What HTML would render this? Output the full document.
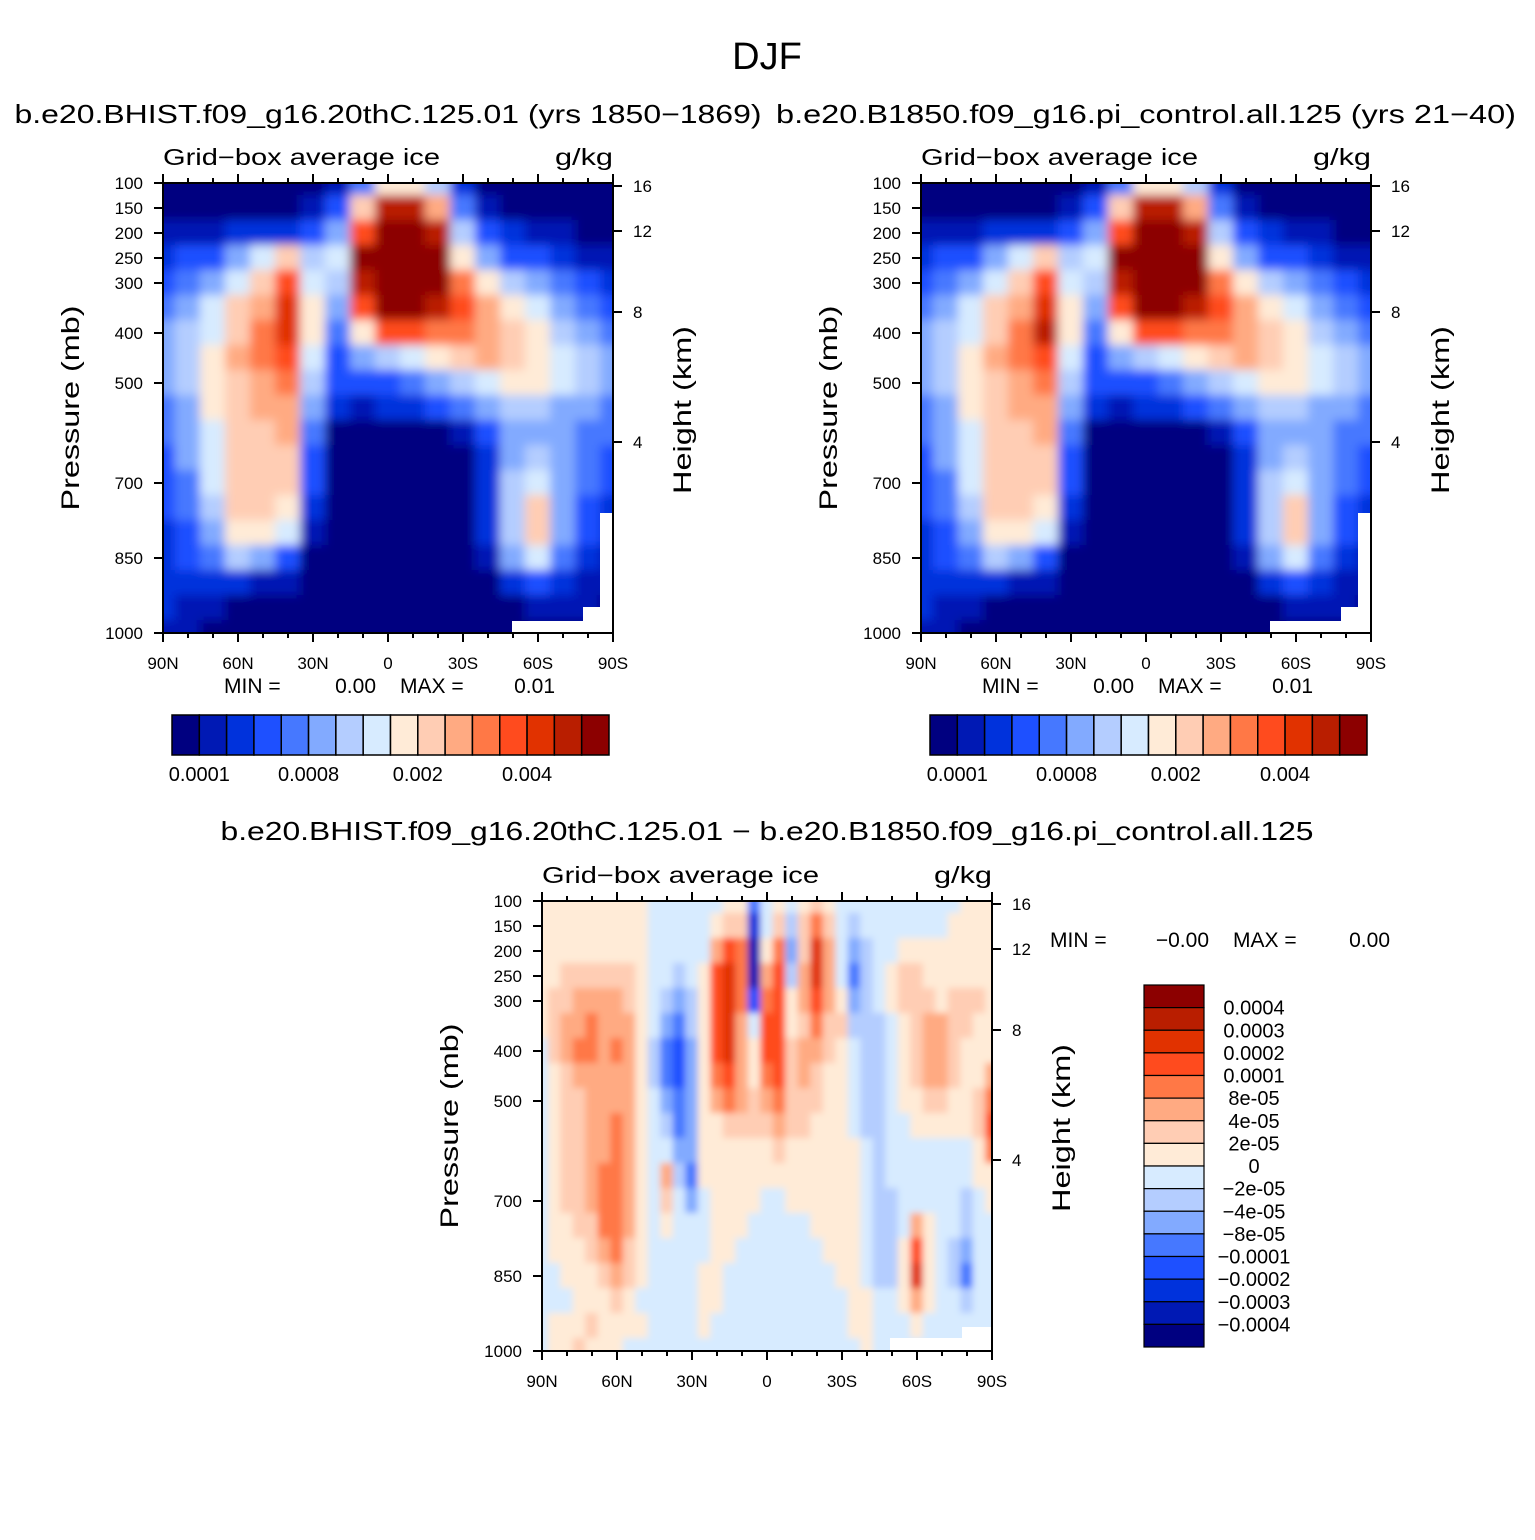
<!DOCTYPE html>
<html><head><meta charset="utf-8"><style>
body{margin:0;background:#fff}
svg text{font-family:"Liberation Sans",sans-serif;fill:#000}
</style></head><body>
<svg id="s" width="1535" height="1535" viewBox="0 0 1535 1535" xmlns="http://www.w3.org/2000/svg">
<defs>
<filter id="bl" x="-10%" y="-10%" width="120%" height="120%"><feGaussianBlur stdDeviation="5"/></filter>
<filter id="bl2" x="-10%" y="-10%" width="120%" height="120%"><feGaussianBlur stdDeviation="3.5"/></filter>
</defs>
<text x="767" y="69" font-size="38" text-anchor="middle">DJF</text>
</svg>
<script>
const colors=["#000080","#0019b4","#0032dc","#1e50ff","#4678ff","#82aaff","#b4cdff","#d7ebff","#ffebd7","#ffcdb4","#ffaa82","#ff7846","#ff4b1e","#e13200","#b91e00","#8c0000"];
const pLevels=[100,150,200,250,300,400,500,700,850,1000];
const hLevels=[16,12,8,4];
const hPix=[186,231,312,442];
const latTicks=["90N","60N","30N","0","30S","60S","90S"];
const meanLabels=["0.0001","0.0008","0.002","0.004"];
const diffLabels=["0.0004","0.0003","0.0002","0.0001","8e-05","4e-05","2e-05","0","\u22122e-05","\u22124e-05","\u22128e-05","\u22120.0001","\u22120.0002","\u22120.0003","\u22120.0004"];
const fieldHist=[
[0,0,0,0,0,0,0,1,4,8,8,6,2,0,0,0,0,0,0],
[0,0,0,0,0,0,1,3,9,14,14,10,4,1,0,0,0,0,0],
[1,1,1,2,2,2,3,5,12,15,15,14,6,3,2,1,1,0,0],
[2,3,3,5,7,9,6,7,15,15,15,15,8,5,3,3,2,1,1],
[3,4,5,7,9,12,7,6,14,15,15,15,11,8,6,5,4,3,2],
[4,5,7,9,10,13,8,5,12,15,15,14,12,10,8,7,5,4,3],
[5,6,7,9,11,13,8,4,8,12,12,11,11,10,9,8,6,5,4],
[5,6,8,10,11,12,7,3,5,6,7,8,9,10,9,8,7,6,5],
[5,6,8,9,10,11,6,3,3,3,4,5,6,7,8,8,7,6,5],
[4,5,8,9,10,10,5,2,1,2,2,3,4,5,6,6,5,5,4],
[4,5,7,9,9,10,4,0,0,0,0,0,1,3,5,5,5,4,4],
[3,5,7,9,9,9,3,0,0,0,0,0,0,2,5,6,5,4,3],
[3,4,7,9,9,9,3,0,0,0,0,0,0,2,6,7,5,4,3],
[3,4,6,9,9,8,2,0,0,0,0,0,0,2,6,9,5,3,2],
[2,3,5,8,8,7,1,0,0,0,0,0,0,2,6,9,5,3,2],
[2,3,4,6,5,3,0,0,0,0,0,0,0,1,5,7,4,2,1],
[2,2,2,2,1,1,0,0,0,0,0,0,0,0,2,3,2,1,1],
[2,1,1,0,0,0,0,0,0,0,0,0,0,0,0,1,1,1,0],
[1,1,0,0,0,0,0,0,0,0,0,0,0,0,0,0,0,0,0]];
const fieldPI=[
[0,0,0,0,0,0,0,1,4,8,8,6,2,0,0,0,0,0,0],
[0,0,0,0,0,0,1,3,9,14,14,10,4,1,0,0,0,0,0],
[1,1,1,2,2,2,3,5,12,15,15,14,6,3,2,1,1,0,0],
[2,3,3,5,7,9,6,7,15,15,15,15,8,5,3,3,2,1,1],
[3,4,5,7,9,12,7,6,14,15,15,15,11,8,6,5,4,3,2],
[4,5,7,9,10,13,8,5,12,15,15,14,12,10,8,7,5,4,3],
[5,6,7,9,11,14,8,4,8,12,12,11,11,10,9,8,6,5,4],
[5,6,8,10,11,12,7,3,5,6,7,8,9,10,9,8,7,6,5],
[5,6,8,9,10,11,6,3,3,3,4,5,6,7,8,8,7,6,5],
[4,5,8,9,10,10,5,2,1,2,2,3,4,5,6,6,5,5,4],
[4,5,7,9,9,10,4,0,0,0,0,0,1,3,5,5,5,4,4],
[3,5,7,9,9,9,3,0,0,0,0,0,0,2,5,6,5,4,3],
[3,4,7,9,9,9,3,0,0,0,0,0,0,2,6,7,5,4,3],
[3,4,6,9,9,8,2,0,0,0,0,0,0,2,6,9,5,3,2],
[2,3,5,8,8,7,1,0,0,0,0,0,0,2,6,9,5,3,2],
[2,3,4,6,5,3,0,0,0,0,0,0,0,1,5,7,4,2,1],
[2,2,2,2,1,1,0,0,0,0,0,0,0,0,2,3,2,1,1],
[2,1,1,0,0,0,0,0,0,0,0,0,0,0,0,1,1,1,0],
[1,1,0,0,0,0,0,0,0,0,0,0,0,0,0,0,0,0,0]];
const fieldDiff=[
[8,8,8,8,8,8,8,8,8,7,7,7,7,7,7,8,8,4,7,8,7,8,9,8,7,7,7,7,7,7,7,7,7,7,8,8,8],
[8,8,8,8,8,8,8,8,8,7,7,7,7,7,8,9,9,2,7,9,6,9,11,9,7,6,7,7,7,7,7,7,7,8,8,8,8],
[8,8,8,8,8,8,8,8,8,7,7,7,7,7,10,12,11,1,8,11,5,9,13,10,7,5,6,7,7,8,8,8,8,8,8,8,8],
[8,8,9,9,9,9,9,9,8,7,7,6,7,8,12,13,11,1,10,12,6,10,13,10,7,4,6,7,8,9,9,8,8,8,8,8,8],
[8,9,9,10,10,10,10,9,8,7,6,5,6,8,12,13,11,3,11,12,8,10,12,10,8,5,6,7,8,9,9,9,8,9,9,9,8],
[8,9,10,10,11,10,10,10,8,7,5,4,6,8,12,13,10,7,12,12,8,9,11,9,9,6,6,6,7,8,9,10,10,9,9,8,8],
[7,9,10,11,11,10,11,10,8,6,4,3,5,8,12,13,10,8,12,12,9,10,10,9,8,7,6,6,7,8,9,10,10,9,8,8,8],
[7,8,9,10,10,10,10,10,8,6,4,3,5,8,11,12,10,8,11,12,9,10,9,8,8,7,6,6,7,8,9,10,10,9,8,8,10],
[7,8,9,9,10,10,10,10,8,7,5,4,5,8,10,11,10,9,10,11,9,9,9,8,8,7,6,6,7,8,8,9,9,8,8,9,11],
[7,8,9,9,10,10,11,10,8,7,6,4,5,8,8,9,9,9,9,10,9,9,8,8,8,7,6,6,7,7,8,8,8,8,8,9,12],
[7,8,9,9,10,10,11,10,8,7,7,5,5,8,8,8,8,8,8,9,8,8,8,8,8,8,7,6,7,7,7,7,7,7,7,8,11],
[7,8,9,9,10,11,11,10,8,7,10,6,4,8,8,8,8,8,8,8,8,8,8,8,8,8,7,6,7,7,7,7,7,7,7,8,8],
[7,8,9,9,10,11,11,10,8,7,9,7,5,7,8,8,8,8,7,7,8,8,8,8,8,8,7,6,6,7,7,7,7,7,6,7,8],
[7,8,8,9,9,11,11,10,8,7,8,7,7,7,8,8,8,7,7,7,7,7,8,8,8,8,7,6,6,7,10,8,7,7,6,7,7],
[7,8,8,8,9,10,11,9,8,7,7,7,7,7,8,8,7,7,7,7,7,7,7,8,8,8,7,6,6,8,12,8,7,6,5,7,7],
[7,7,8,8,8,9,10,9,8,7,7,7,7,8,8,7,7,7,7,7,7,7,7,7,8,8,7,6,6,8,13,8,7,6,4,7,7],
[7,7,7,8,8,8,9,8,7,7,7,7,7,8,8,7,7,7,7,7,7,7,7,7,7,8,8,7,7,8,10,8,7,7,6,7,7],
[7,8,8,8,9,8,8,8,8,7,7,7,7,8,7,7,7,7,7,7,7,7,7,7,7,8,8,7,7,7,8,7,7,7,7,7,7],
[7,8,8,9,8,8,8,7,7,7,7,7,7,7,7,7,7,7,7,7,7,7,7,7,7,7,8,7,7,7,7,7,7,7,7,7,7]];

const svg=document.getElementById('s');
const NS="http://www.w3.org/2000/svg";
function mk(tag,attrs,parent){const e=document.createElementNS(NS,tag);for(const k in attrs)e.setAttribute(k,attrs[k]);(parent||svg).appendChild(e);return e;}
function txt(x,y,s,size,anchor,parent,len){const t=mk('text',{x:x,y:y,'font-size':size,'text-anchor':anchor||'start'},parent);if(len){t.setAttribute('textLength',len);t.setAttribute('lengthAdjust','spacingAndGlyphs');}t.textContent=s;return t;}

function panel(id,x0,y0,field,blur,missing){
  const W=450,H=450;
  const g=mk('g',{});
  
  
  const cp=mk('clipPath',{id:'c'+id},g);
  mk('rect',{x:x0,y:y0,width:W,height:H},cp);
  const outer=mk('g',{'clip-path':'url(#c'+id+')'},g);
  const cells=mk('g',{filter:'url(#'+blur+')'},outer);
  
  
  const nr=field.length;
  for(let i=0;i<nr;i++){const row=field[i];const nc=row.length;const dx=W/(nc-1),dy=H/(nr-1);
    for(let j=0;j<nc;j++){
      let x=x0+j*dx-dx/2-0.5,y=y0+i*dy-dy/2-0.5,w=dx+1,h=dy+1;
      if(j===0){x-=20;w+=20;} if(j===nc-1){w+=20;}
      if(i===0){y-=20;h+=20;} if(i===nr-1){h+=20;}
      const r=mk('rect',{x:x,y:y,width:w,height:h,fill:colors[row[j]]},cells);
      
      
    }}
  missing.forEach(m=>mk('rect',{x:x0+m[0],y:y0+m[1],width:m[2],height:m[3],fill:'#fff'},outer));
  mk('rect',{x:x0,y:y0,width:W,height:H,fill:'none',stroke:'#000','stroke-width':2},g);
  const xs=v=>x0+(v+90)/180*W;
  for(let v=-90;v<=90;v+=10){const maj=v%30===0;const L=maj?9:5;
    mk('line',{x1:xs(v),x2:xs(v),y1:y0,y2:y0-L,stroke:'#000','stroke-width':2},g);
    mk('line',{x1:xs(v),x2:xs(v),y1:y0+H,y2:y0+H+L,stroke:'#000','stroke-width':2},g);}
  latTicks.forEach((l,k)=>{const t=txt(xs(-90+k*30),y0+H+36,l,17,'middle',g);});
  const ys=p=>y0+(p-100)/900*H;
  pLevels.forEach(p=>{mk('line',{x1:x0,x2:x0-9,y1:ys(p),y2:ys(p),stroke:'#000','stroke-width':2},g);
    const t=txt(x0-20,ys(p)+6,String(p),17,'end',g);});
  hLevels.forEach((h,k)=>{const y=y0+(hPix[k]-183);mk('line',{x1:x0+W,x2:x0+W+9,y1:y,y2:y,stroke:'#000','stroke-width':2},g);
    const t=txt(x0+W+20,y+6,String(h),17,'start',g);});
  const a=txt(x0,y0-18,'Grid\u2212box average ice',23,'start',g,277);
  const b=txt(x0+W,y0-18,'g/kg',23,'end',g,58);
  const yl=txt(0,0,'Pressure (mb)',25,'middle',g,205);yl.setAttribute('transform','translate('+(x0-84)+','+(y0+225)+') rotate(-90)');
  const hl=txt(0,0,'Height (km)',25,'middle',g,168);hl.setAttribute('transform','translate('+(x0+W+78)+','+(y0+227)+') rotate(-90)');
}
panel('hist',163,183,fieldHist,"bl",[[349,438,101,12],[420,424,30,26],[437,330,13,120]]);
panel('pi',921,183,fieldPI,"bl",[[349,438,101,12],[420,424,30,26],[437,330,13,120]]);
panel('diff',542,901,fieldDiff,"bl2",[[348,437,85,13],[420,426,30,24]]);

function ttl(x,y,s,size,name,len){const t=txt(x,y,s,size,'middle',null,len);}
ttl(388,123,'b.e20.BHIST.f09_g16.20thC.125.01 (yrs 1850\u22121869)',26,'hist-title',747);
ttl(1146,123,'b.e20.B1850.f09_g16.pi_control.all.125 (yrs 21\u221240)',26,'pi-title',740);
ttl(767,840,'b.e20.BHIST.f09_g16.20thC.125.01 \u2212 b.e20.B1850.f09_g16.pi_control.all.125',26,'diff-title',1093);
function minmax(x,y,parts,name){const g=mk('g',{});
  parts.forEach(p=>{const t=txt(x+p[0],y,p[1],21,p[2],g);});}
minmax(224,693,[[0,'MIN =','start'],[152,'0.00','end'],[176,'MAX =','start'],[331,'0.01','end']],'hist-minmax');
minmax(982,693,[[0,'MIN =','start'],[152,'0.00','end'],[176,'MAX =','start'],[331,'0.01','end']],'pi-minmax');
minmax(1050,947,[[0,'MIN =','start'],[159,'\u22120.00','end'],[183,'MAX =','start'],[340,'0.00','end']],'diff-minmax');

function hbar(x0,name){const g=mk('g',{});
  const w=437/16;
  colors.forEach((c,k)=>{const r=mk('rect',{x:x0+k*w,y:715,width:w,height:40,fill:c,stroke:'#000','stroke-width':1.5},g);});
  meanLabels.forEach((l,k)=>{const t=txt(x0+w*(1+4*k),781,l,20,'middle',g);});}
hbar(172,'hist-colorbar');hbar(930,'pi-colorbar');
(function(){const g=mk('g',{});
  const h=362/16;
  for(let k=0;k<16;k++){const r=mk('rect',{x:1144,y:985+k*h,width:60,height:h,fill:colors[15-k],stroke:'#000','stroke-width':1.2},g);}
  diffLabels.forEach((l,k)=>{const t=txt(1254,985+(k+1)*h+7,l,20,'middle',g);});})();
</script>
</body></html>
